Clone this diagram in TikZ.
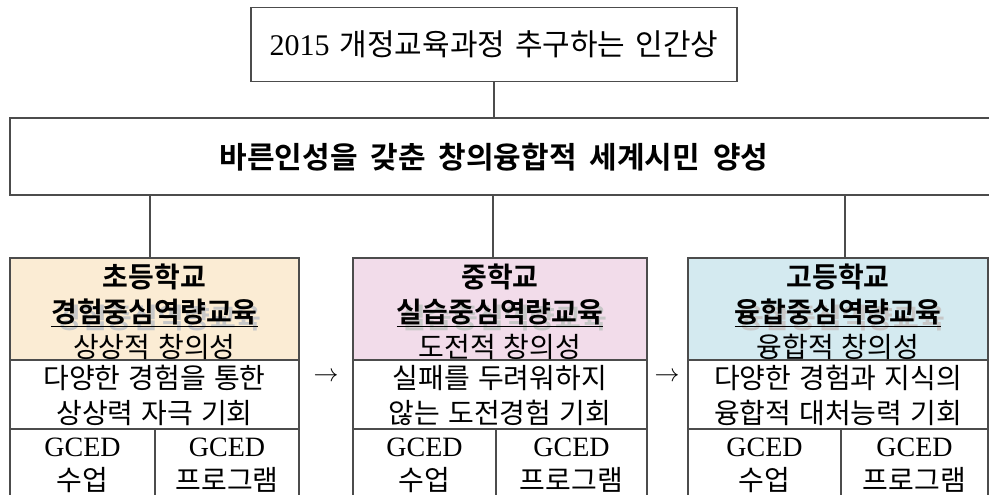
\documentclass[tikz,border=0pt]{standalone}
\usepackage{fontspec}
\setmainfont{Noto Sans CJK KR}[BoldFont={Noto Sans CJK KR Bold}]
\newfontfamily\lat{Liberation Serif}
\definecolor{creamfill}{RGB}{251,236,212}
\definecolor{pinkfill}{RGB}{242,220,234}
\definecolor{bluefill}{RGB}{212,234,240}
\newcommand\krtext{\fontsize{28}{35}\selectfont\spaceskip=8pt\relax}
\newcommand\krbold{\fontsize{28}{35}\selectfont\bfseries\spaceskip=9pt\relax}
\newcommand\krgoal{\fontsize{30}{35}\selectfont\bfseries\spaceskip=13pt\relax}
\newcommand\krtop{\fontsize{30}{35}\selectfont\spaceskip=10pt\relax}
\begin{document}
\begin{tikzpicture}[x=1pt,y=-1pt,
  cell/.style n args={2}{draw=black!70, line width=1.2pt, rectangle, inner sep=0pt,
      minimum width=#1, minimum height=#2, align=center, font=\krtext},
  txt/.style={inner sep=0pt, align=center, font=\krtext},
  txtb/.style={inner sep=0pt, align=center, font=\krbold},
  shade/.style={txtb, text=black!22},
  conn/.style={draw=black!70, line width=1.2pt},
  arrowtxt/.style={inner sep=0pt, font=\fontsize{28}{35}\selectfont}
]
\useasboundingbox (0,0) rectangle (989,495);

% top box
\node[cell={486}{74}, font=\krtop] (top) at (494,44.5) {{\lat 2015} 개정교육과정 추구하는 인간상};

% goal box
\node[cell={990}{77}] (goal) at (505,156.5) {};
\node[inner sep=0pt, font=\krgoal] (goaltext) at (494,157) {바른인성을 갖춘 창의융합적 세계시민 양성};

\draw[conn] (top.south) -- (top.south |- goal.north);

% column boxes
\node[cell={289}{102}, fill=creamfill] (h1) at (154.5,309) {};
\node[cell={289}{69}] (d1) at (154.5,394.5) {};
\node[cell={145}{72}] (a1) at (82.5,465) {};
\node[cell={144}{72}] (b1) at (227,465) {};

\node[cell={294}{102}, fill=pinkfill] (h2) at (500,309) {};
\node[cell={294}{69}] (d2) at (500,394.5) {};
\node[cell={143}{72}] (a2) at (424.5,465) {};
\node[cell={151}{72}] (b2) at (571.5,465) {};

\node[cell={300}{102}, fill=bluefill] (h3) at (838,309) {};
\node[cell={300}{69}] (d3) at (838,394.5) {};
\node[cell={153}{72}] (a3) at (764.5,465) {};
\node[cell={147}{72}] (b3) at (914.5,465) {};

% connectors
\coordinate (k1) at (150,0);
\coordinate (k2) at (493,0);
\coordinate (k3) at (845,0);
\draw[conn] (goal.south -| k1) -- (h1.north -| k1);
\draw[conn] (goal.south -| k2) -- (h2.north -| k2);
\draw[conn] (goal.south -| k3) -- (h3.north -| k3);

% arrows
\node[arrowtxt] (ar1) at (326,377) {$\rightarrow$};
\node[arrowtxt] (ar2) at (667,377) {$\rightarrow$};

% column 1 texts
\node[txtb] (t1a) at (154.5,277) {초등학교};
\node[shade] (t1s) at (158.5,318) {경험중심역량교육};
\node[txtb] (t1b) at (154.5,313) {\underline{경험중심역량교육}};
\node[txt] (t1c) at (154.5,347) {상상적 창의성};
\node[txt] (t1d) at (154.5,378) {다양한 경험을 통한};
\node[txt] (t1e) at (154.5,413) {상상력 자극 기회};
\node[txt] (t1f) at (82.5,447) {\lat GCED};
\node[txt] (t1g) at (82.5,480) {수업};
\node[txt] (t1h) at (227,447) {\lat GCED};
\node[txt] (t1i) at (227,480) {프로그램};

% column 2 texts
\node[txtb] (t2a) at (500,277) {중학교};
\node[shade] (t2s) at (504,318) {실습중심역량교육};
\node[txtb] (t2b) at (500,313) {\underline{실습중심역량교육}};
\node[txt] (t2c) at (500,347) {도전적 창의성};
\node[txt] (t2d) at (500,378) {실패를 두려워하지};
\node[txt] (t2e) at (500,413) {않는 도전경험 기회};
\node[txt] (t2f) at (424.5,447) {\lat GCED};
\node[txt] (t2g) at (424.5,480) {수업};
\node[txt] (t2h) at (571.5,447) {\lat GCED};
\node[txt] (t2i) at (571.5,480) {프로그램};

% column 3 texts
\node[txtb] (t3a) at (838,277) {고등학교};
\node[shade] (t3s) at (842,318) {융합중심역량교육};
\node[txtb] (t3b) at (838,313) {\underline{융합중심역량교육}};
\node[txt] (t3c) at (838,347) {융합적 창의성};
\node[txt] (t3d) at (838,378) {다양한 경험과 지식의};
\node[txt] (t3e) at (838,413) {융합적 대처능력 기회};
\node[txt] (t3f) at (764.5,447) {\lat GCED};
\node[txt] (t3g) at (764.5,480) {수업};
\node[txt] (t3h) at (914.5,447) {\lat GCED};
\node[txt] (t3i) at (914.5,480) {프로그램};
\end{tikzpicture}
\end{document}
